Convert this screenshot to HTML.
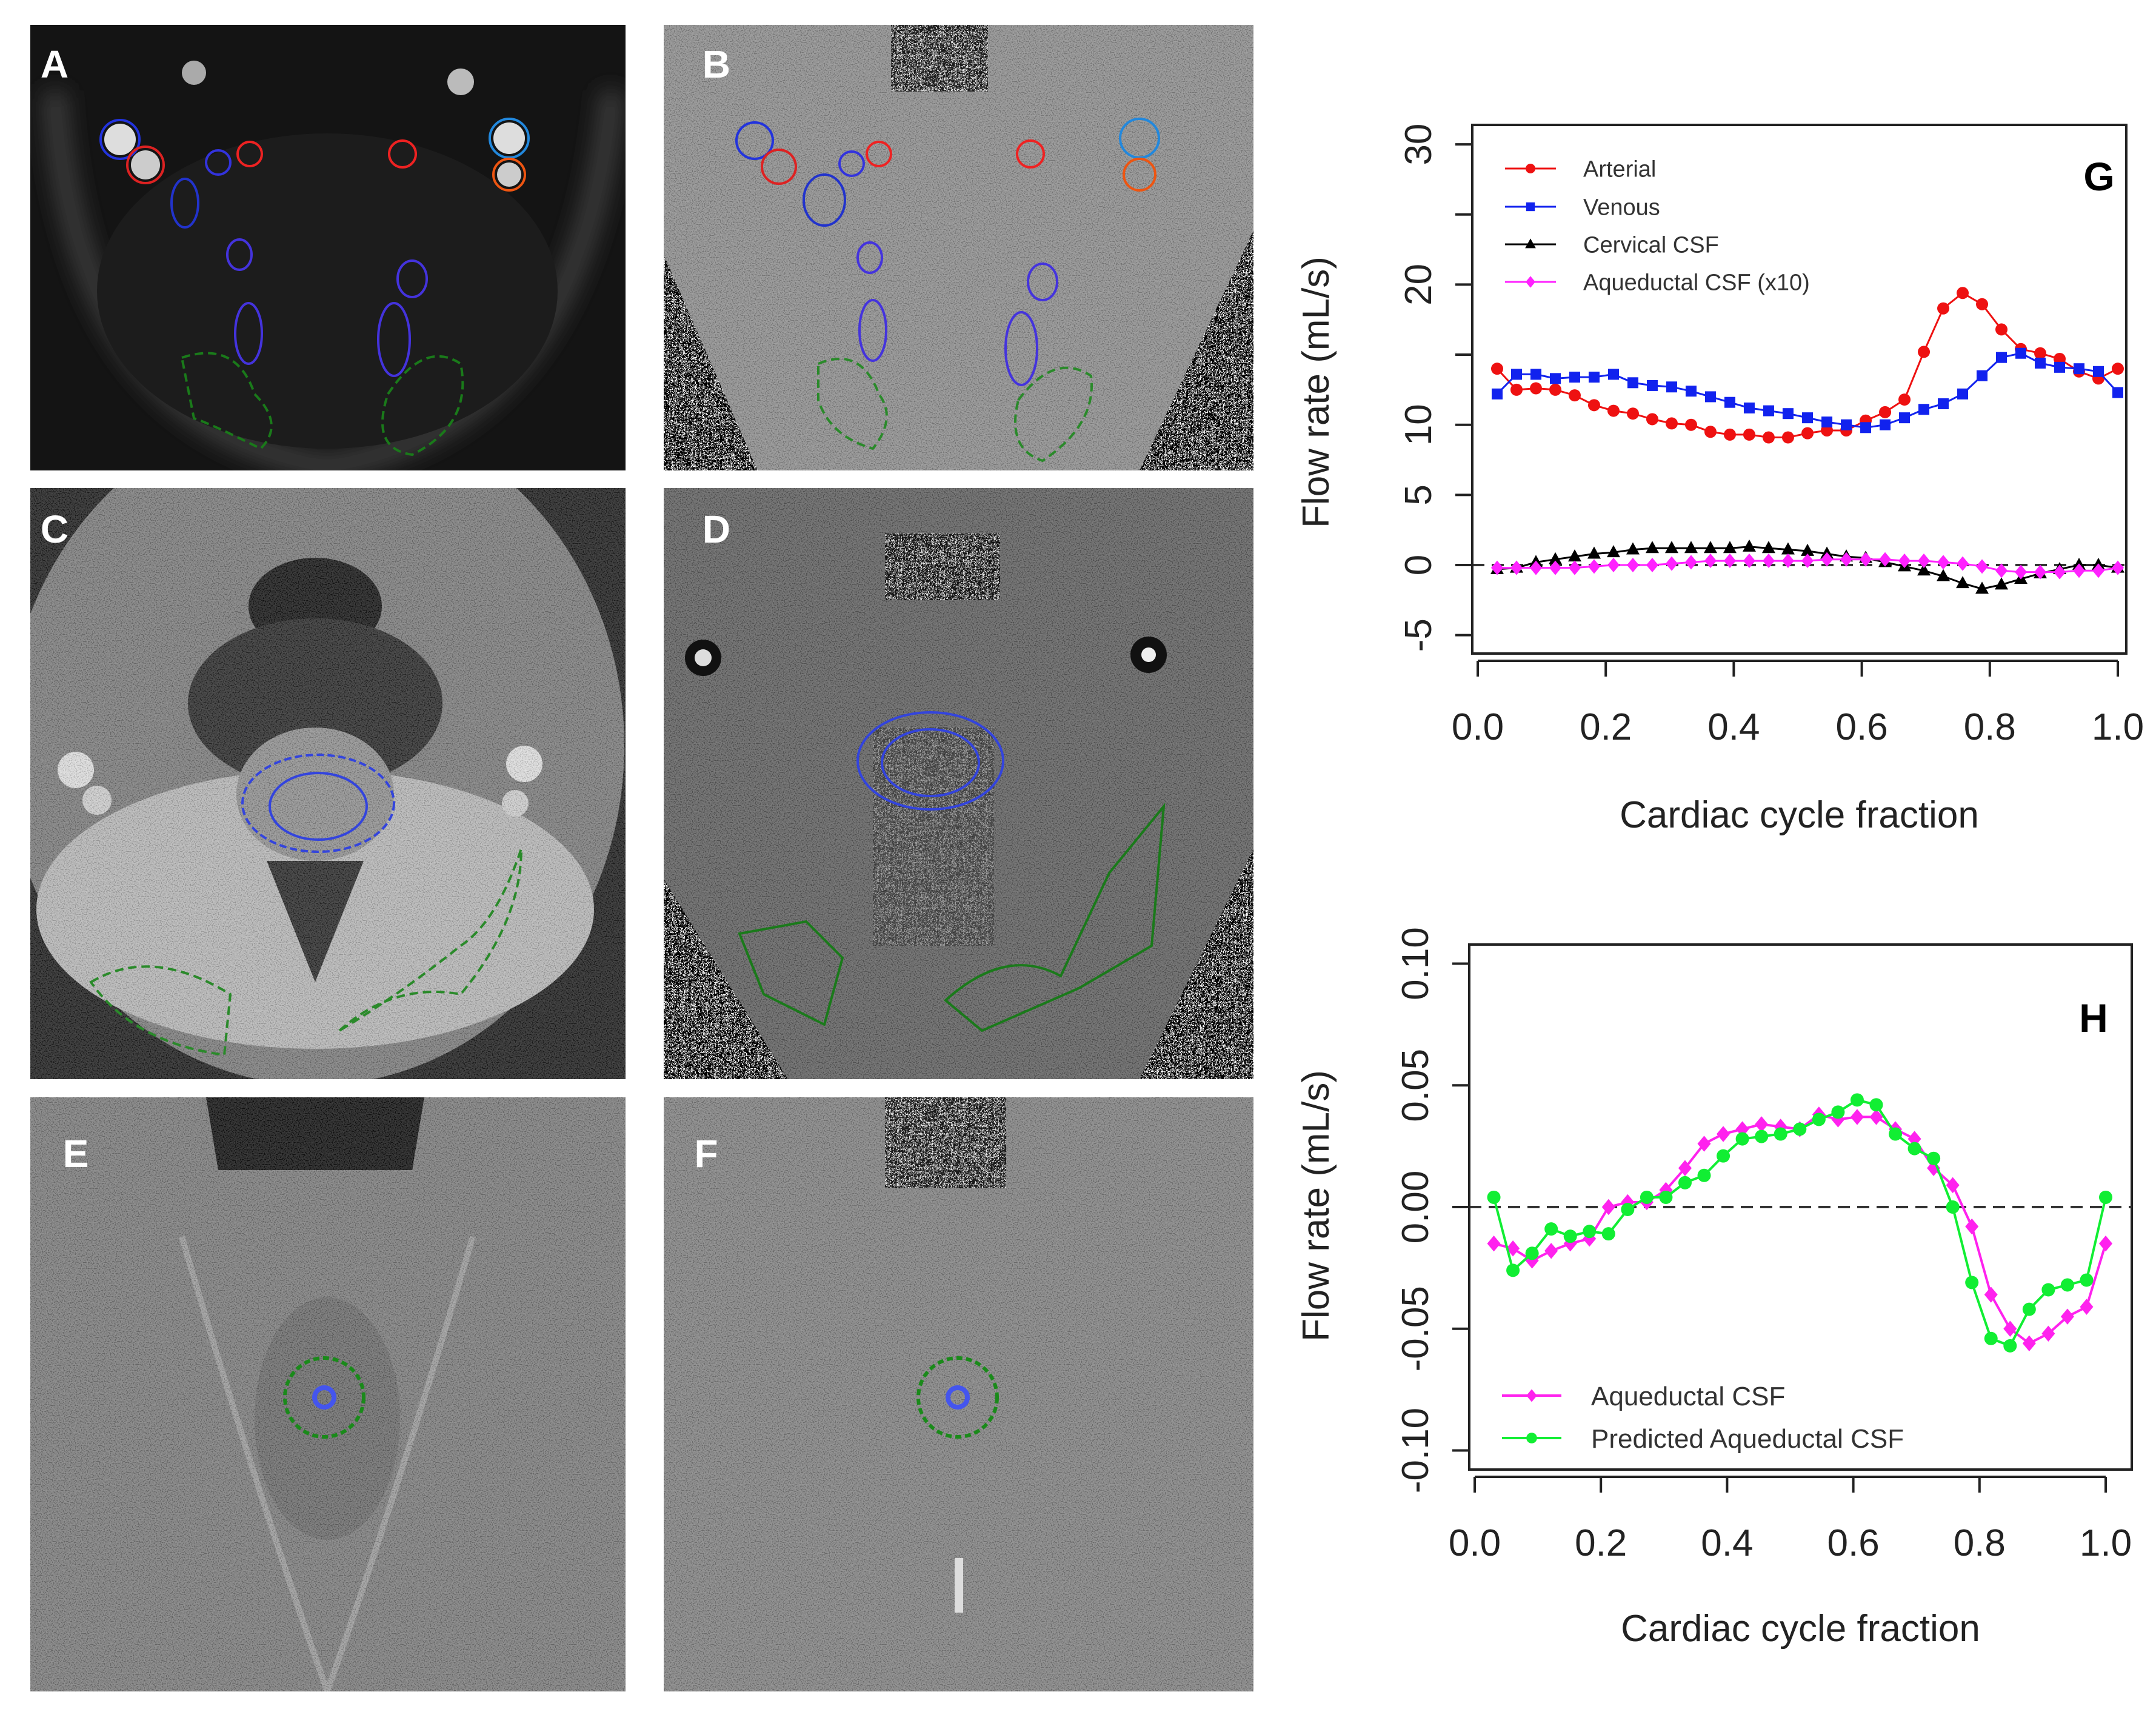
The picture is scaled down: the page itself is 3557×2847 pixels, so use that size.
<!DOCTYPE html>
<html><head><meta charset="utf-8">
<style>
html,body{margin:0;padding:0;background:#fff;}
svg{display:block;}
text{font-family:"Liberation Sans",sans-serif;}
</style></head>
<body>
<svg id="fig" width="3557" height="2847" viewBox="0 0 3557 2847" xmlns="http://www.w3.org/2000/svg">
<defs>
 <filter id="noise" x="0" y="0" width="100%" height="100%">
  <feTurbulence type="turbulence" baseFrequency="0.45" numOctaves="1" seed="3" result="t"/>
  <feColorMatrix in="t" type="matrix" values="9 0 0 0 -1.6  9 0 0 0 -1.6  9 0 0 0 -1.6  0 0 0 0 1"/>
  <feComposite in2="SourceGraphic" operator="in"/>
 </filter>
 <filter id="grain" x="0" y="0" width="100%" height="100%">
  <feTurbulence type="fractalNoise" baseFrequency="0.5" numOctaves="1" seed="7"/>
  <feColorMatrix type="matrix" values="3 0 0 0 -1  3 0 0 0 -1  3 0 0 0 -1  0 0 0 0 0.18"/>
  <feComposite in2="SourceGraphic" operator="in"/>
 </filter>
 <filter id="blur"><feGaussianBlur stdDeviation="18"/></filter>
 <clipPath id="cA"><rect x="50" y="41" width="982" height="735"/></clipPath>
 <clipPath id="cB"><rect x="1095" y="41" width="973" height="735"/></clipPath>
 <clipPath id="cC"><rect x="50" y="805" width="982" height="975"/></clipPath>
 <clipPath id="cD"><rect x="1095" y="805" width="973" height="975"/></clipPath>
 <clipPath id="cE"><rect x="50" y="1810" width="982" height="980"/></clipPath>
 <clipPath id="cF"><rect x="1095" y="1810" width="973" height="980"/></clipPath>
</defs>

<!-- Panel A -->
<g clip-path="url(#cA)">
 <rect x="50" y="41" width="982" height="735" fill="#141414"/>
 <path d="M90 150 Q120 700 540 770 Q960 700 1010 150" fill="none" stroke="#3a3a3a" stroke-width="40" filter="url(#blur)"/>
 <ellipse cx="540" cy="480" rx="380" ry="260" fill="#1c1c1c"/>
 <circle cx="198" cy="230" r="26" fill="#ddd"/><circle cx="240" cy="272" r="24" fill="#ccc"/>
 <circle cx="840" cy="228" r="26" fill="#ddd"/><circle cx="840" cy="288" r="20" fill="#ccc"/>
 <circle cx="320" cy="120" r="20" fill="#aaa"/><circle cx="760" cy="135" r="22" fill="#bbb"/>
 <g fill="none" stroke-width="4">
  <circle cx="198" cy="230" r="32" stroke="#2233dd"/><circle cx="240" cy="272" r="30" stroke="#dd2222"/>
  <circle cx="360" cy="268" r="20" stroke="#3333dd"/><circle cx="412" cy="254" r="20" stroke="#ee2222"/>
  <circle cx="664" cy="254" r="22" stroke="#ee2222"/><circle cx="840" cy="228" r="32" stroke="#2288dd"/>
  <circle cx="840" cy="288" r="26" stroke="#ee5511"/>
  <ellipse cx="305" cy="335" rx="22" ry="40" stroke="#2233cc"/>
  <ellipse cx="395" cy="420" rx="20" ry="25" stroke="#4433dd"/><ellipse cx="680" cy="460" rx="24" ry="30" stroke="#4433dd"/>
  <ellipse cx="410" cy="550" rx="22" ry="50" stroke="#4433dd"/><ellipse cx="650" cy="560" rx="26" ry="60" stroke="#4433dd"/>
  <path d="M300 590 Q390 560 420 650 Q470 700 430 740 Q350 700 320 690 Z" stroke="#1a7a1a" stroke-dasharray="14 8"/>
  <path d="M640 650 Q700 560 760 600 Q780 700 680 750 Q610 740 640 650 Z" stroke="#1a7a1a" stroke-dasharray="14 8"/>
 </g>
 <text x="90" y="128" font-size="64" font-weight="bold" fill="#fff" text-anchor="middle">A</text>
</g>

<!-- Panel B -->
<g clip-path="url(#cB)">
 <rect x="1095" y="41" width="973" height="735" fill="#8c8c8c"/>
 <rect x="1095" y="41" width="973" height="735" fill="#fff" filter="url(#grain)"/>
 <path d="M1095 420 L1250 776 L1095 776 Z" fill="#fff" filter="url(#noise)"/>
 <path d="M2068 380 L1880 776 L2068 776 Z" fill="#fff" filter="url(#noise)"/>
 <rect x="1470" y="41" width="160" height="110" fill="#fff" filter="url(#noise)" opacity="0.8"/>
 <g fill="none" stroke-width="4">
  <circle cx="1245" cy="232" r="30" stroke="#2233dd"/><circle cx="1285" cy="275" r="28" stroke="#dd2222"/>
  <circle cx="1405" cy="270" r="20" stroke="#3333dd"/><circle cx="1450" cy="254" r="20" stroke="#ee2222"/>
  <circle cx="1700" cy="254" r="22" stroke="#ee2222"/><circle cx="1880" cy="228" r="32" stroke="#2288dd"/>
  <circle cx="1880" cy="288" r="26" stroke="#ee5511"/>
  <ellipse cx="1360" cy="330" rx="34" ry="42" stroke="#2233cc"/>
  <ellipse cx="1435" cy="425" rx="20" ry="25" stroke="#4433dd"/><ellipse cx="1720" cy="465" rx="24" ry="30" stroke="#4433dd"/>
  <ellipse cx="1440" cy="545" rx="22" ry="50" stroke="#4433dd"/><ellipse cx="1685" cy="575" rx="26" ry="60" stroke="#4433dd"/>
  <path d="M1350 600 Q1420 570 1450 650 Q1480 690 1440 740 Q1370 720 1350 660 Z" stroke="#2a8a2a" stroke-dasharray="14 8"/>
  <path d="M1680 660 Q1740 580 1800 620 Q1810 700 1720 760 Q1660 740 1680 660 Z" stroke="#2a8a2a" stroke-dasharray="14 8"/>
 </g>
 <text x="1182" y="128" font-size="64" font-weight="bold" fill="#fff" text-anchor="middle">B</text>
</g>

<!-- Panel C -->
<g clip-path="url(#cC)">
 <rect x="50" y="805" width="982" height="975" fill="#1e1e1e"/>
 <ellipse cx="520" cy="1230" rx="510" ry="560" fill="#7a7a7a"/>
 <ellipse cx="520" cy="1500" rx="460" ry="230" fill="#b5b5b5"/>
 <ellipse cx="520" cy="1000" rx="110" ry="80" fill="#151515"/>
 <ellipse cx="520" cy="1160" rx="210" ry="140" fill="#2a2a2a"/>
 <ellipse cx="520" cy="1310" rx="130" ry="110" fill="#8e8e8e"/>
 <path d="M440 1420 L520 1620 L600 1420 Z" fill="#2a2a2a"/>
 <circle cx="125" cy="1270" r="30" fill="#ddd"/><circle cx="160" cy="1320" r="24" fill="#ccc"/>
 <circle cx="865" cy="1260" r="30" fill="#ddd"/><circle cx="850" cy="1325" r="22" fill="#ccc"/>
 <rect x="50" y="805" width="982" height="975" fill="#fff" filter="url(#grain)"/>
 <g fill="none" stroke-width="4">
  <ellipse cx="525" cy="1325" rx="125" ry="80" stroke="#3344dd" stroke-dasharray="12 6"/>
  <ellipse cx="525" cy="1330" rx="80" ry="55" stroke="#3344dd"/>
  <path d="M150 1620 Q250 1560 380 1640 L370 1740 Q220 1720 150 1620 Z" stroke="#2a8a2a" stroke-dasharray="14 8"/>
  <path d="M560 1700 Q650 1620 760 1640 Q860 1520 860 1400 Q820 1520 760 1560 Q660 1640 560 1700 Z" stroke="#2a8a2a" stroke-dasharray="14 8"/>
 </g>
 <text x="90" y="895" font-size="64" font-weight="bold" fill="#fff" text-anchor="middle">C</text>
</g>

<!-- Panel D -->
<g clip-path="url(#cD)">
 <rect x="1095" y="805" width="973" height="975" fill="#5e5e5e"/>
 <rect x="1095" y="805" width="973" height="975" fill="#fff" filter="url(#grain)"/>
 <path d="M1095 1450 L1095 1780 L1300 1780 Z" fill="#fff" filter="url(#noise)"/>
 <path d="M2068 1400 L2068 1780 L1880 1780 Z" fill="#fff" filter="url(#noise)"/>
 <rect x="1460" y="880" width="190" height="110" fill="#fff" filter="url(#noise)" opacity="0.8"/>
 <rect x="1440" y="1200" width="200" height="360" fill="#fff" filter="url(#noise)" opacity="0.35"/>
 <circle cx="1160" cy="1085" r="30" fill="#111"/><circle cx="1160" cy="1085" r="14" fill="#ddd"/>
 <circle cx="1895" cy="1080" r="30" fill="#111"/><circle cx="1895" cy="1080" r="12" fill="#eee"/>
 <g fill="none" stroke-width="4">
  <ellipse cx="1535" cy="1255" rx="120" ry="80" stroke="#3344dd"/>
  <ellipse cx="1535" cy="1258" rx="80" ry="55" stroke="#3344dd"/>
  <path d="M1220 1540 L1330 1520 L1390 1580 L1360 1690 L1260 1640 Z" stroke="#1a7a1a"/>
  <path d="M1560 1650 Q1660 1560 1750 1610 L1830 1440 L1920 1330 L1900 1560 L1780 1630 L1620 1700 Z" stroke="#1a7a1a"/>
 </g>
 <text x="1182" y="895" font-size="64" font-weight="bold" fill="#fff" text-anchor="middle">D</text>
</g>

<!-- Panel E -->
<g clip-path="url(#cE)">
 <rect x="50" y="1810" width="982" height="980" fill="#7a7a7a"/>
 <path d="M340 1810 L700 1810 L680 1930 L360 1930 Z" fill="#111"/>
 <path d="M300 2040 Q420 2450 540 2790 M780 2040 Q660 2450 540 2790" stroke="#9a9a9a" stroke-width="10" fill="none"/>
 <ellipse cx="540" cy="2340" rx="120" ry="200" fill="#6a6a6a"/>
 <rect x="50" y="1810" width="982" height="980" fill="#fff" filter="url(#grain)"/>
 <circle cx="535" cy="2305" r="65" fill="none" stroke="#1a8a1a" stroke-width="6" stroke-dasharray="10 6"/>
 <circle cx="535" cy="2305" r="16" fill="none" stroke="#4455ee" stroke-width="8"/>
 <text x="125" y="1925" font-size="64" font-weight="bold" fill="#fff" text-anchor="middle">E</text>
</g>

<!-- Panel F -->
<g clip-path="url(#cF)">
 <rect x="1095" y="1810" width="973" height="980" fill="#808080"/>
 <rect x="1095" y="1810" width="973" height="980" fill="#fff" filter="url(#grain)"/>
 <rect x="1460" y="1810" width="200" height="150" fill="#fff" filter="url(#noise)" opacity="0.8"/>
 <rect x="1575" y="2570" width="14" height="90" fill="#ddd"/>
 <circle cx="1580" cy="2305" r="65" fill="none" stroke="#1a8a1a" stroke-width="6" stroke-dasharray="10 6"/>
 <circle cx="1580" cy="2305" r="16" fill="none" stroke="#4455ee" stroke-width="8"/>
 <text x="1165" y="1925" font-size="64" font-weight="bold" fill="#fff" text-anchor="middle">F</text>
</g>

<g id="chartG"></g>
<g id="chartH"></g>
</svg>

<script>
// ---- Chart G data ----
const xFractions = [0.0303,0.0606,0.0909,0.1212,0.1515,0.1818,0.2121,0.2424,0.2727,0.3030,0.3333,0.3636,0.3939,0.4242,0.4545,0.4848,0.5152,0.5455,0.5758,0.6061,0.6364,0.6667,0.6970,0.7273,0.7576,0.7879,0.8182,0.8485,0.8788,0.9091,0.9394,0.9697,1.0];
const arterial = [14.0,12.5,12.6,12.5,12.1,11.4,11.0,10.8,10.4,10.1,10.0,9.5,9.3,9.3,9.1,9.1,9.4,9.6,9.6,10.3,10.9,11.8,15.2,18.3,19.4,18.6,16.8,15.4,15.1,14.7,13.8,13.3,14.0];
const venous = [12.2,13.6,13.6,13.3,13.4,13.4,13.6,13.0,12.8,12.7,12.4,12.0,11.6,11.2,11.0,10.8,10.5,10.2,10.0,9.8,10.0,10.5,11.1,11.5,12.2,13.5,14.8,15.1,14.4,14.1,14.0,13.8,12.3];
const cervicalCSF = [-0.3,-0.2,0.2,0.4,0.6,0.8,0.9,1.1,1.2,1.2,1.2,1.2,1.2,1.3,1.2,1.1,1.0,0.8,0.6,0.5,0.2,-0.1,-0.4,-0.8,-1.3,-1.7,-1.4,-1.0,-0.6,-0.3,0.0,0.0,-0.2];
const aqueductalX10 = [-0.2,-0.2,-0.2,-0.2,-0.2,-0.1,0.0,0.0,0.0,0.1,0.2,0.3,0.3,0.3,0.3,0.3,0.3,0.4,0.4,0.4,0.4,0.3,0.3,0.2,0.1,-0.1,-0.4,-0.5,-0.5,-0.5,-0.4,-0.4,-0.2];
const gYTicks = [-5,0,5,10,15,20,25,30];
const gYLabels = ['-5','0','5','10','','20','','30'];
const xTicks = [0,0.2,0.4,0.6,0.8,1.0];
const xTickLabels = ['0.0','0.2','0.4','0.6','0.8','1.0'];
// ---- Chart H data ----
const aqueductalCSF = [-0.015,-0.017,-0.022,-0.018,-0.015,-0.013,0.000,0.002,0.002,0.007,0.016,0.026,0.030,0.032,0.034,0.033,0.032,0.038,0.036,0.037,0.037,0.032,0.028,0.016,0.009,-0.008,-0.036,-0.050,-0.056,-0.052,-0.045,-0.041,-0.015];
const predictedCSF = [0.004,-0.026,-0.019,-0.009,-0.012,-0.010,-0.011,-0.001,0.004,0.004,0.010,0.013,0.021,0.028,0.029,0.030,0.032,0.036,0.039,0.044,0.042,0.030,0.024,0.020,0.000,-0.031,-0.054,-0.057,-0.042,-0.034,-0.032,-0.030,0.004];
const hYTicks = [-0.10,-0.05,0.00,0.05,0.10];
const hYLabels = ['-0.10','-0.05','0.00','0.05','0.10'];

const NS='http://www.w3.org/2000/svg';
function mk(parent, tag, attrs, txt){
  const e=document.createElementNS(NS,tag);
  for(const k in attrs) e.setAttribute(k,attrs[k]);
  if(txt!==undefined) e.textContent=txt;
  parent.appendChild(e); return e;
}
function marker(g, shape, cx, cy, r, color){
  let m;
  if(shape==='circle') m=mk(g,'circle',{cx:cx,cy:cy,r:r,fill:color});
  else if(shape==='square') m=mk(g,'rect',{x:cx-r,y:cy-r,width:2*r,height:2*r,fill:color});
  else if(shape==='triangle') m=mk(g,'polygon',{points:`${cx},${cy-r*1.2} ${cx-r*1.1},${cy+r*0.8} ${cx+r*1.1},${cy+r*0.8}`,fill:color});
  else m=mk(g,'polygon',{points:`${cx},${cy-r*1.2} ${cx+r},${cy} ${cx},${cy+r*1.2} ${cx-r},${cy}`,fill:color});
  return m;
}
function drawChart(cfg){
  const g=document.getElementById(cfg.id);
  const X=v=>cfg.x0+(v)*(cfg.x1-cfg.x0);
  const Y=v=>cfg.yZero-(v)*cfg.yScale;
  const box=mk(g,'rect',{x:cfg.bx0,y:cfg.by0,width:cfg.bx1-cfg.bx0,height:cfg.by1-cfg.by0,fill:'none',stroke:'#222','stroke-width':4});
  
  
  const zl=mk(g,'line',{x1:cfg.bx0,x2:cfg.bx1,y1:Y(0),y2:Y(0),stroke:'#333','stroke-width':4,'stroke-dasharray':'20 12'});
  
  
  const xa=mk(g,'g',{});
  
  
  mk(xa,'line',{x1:X(xTicks[0]),x2:X(xTicks[xTicks.length-1]),y1:cfg.axY,y2:cfg.axY,stroke:'#222','stroke-width':4});
  xTicks.forEach((t,i)=>{
    mk(xa,'line',{x1:X(t),x2:X(t),y1:cfg.axY,y2:cfg.axY+26,stroke:'#222','stroke-width':4});
    const tl=mk(xa,'text',{x:X(t),y:cfg.axY+130,'font-size':62,'text-anchor':'middle',fill:'#222'},xTickLabels[i]);
    
    
  });
  const xt=mk(g,'text',{x:(cfg.bx0+cfg.bx1)/2,y:cfg.xTitleY,'font-size':62,'text-anchor':'middle',fill:'#222'},'Cardiac cycle fraction');
  
  
  const ya=mk(g,'g',{});
  
  
  const ax=cfg.bx0;
  mk(ya,'line',{x1:ax,x2:ax,y1:Y(cfg.yTicks[0]),y2:Y(cfg.yTicks[cfg.yTicks.length-1]),stroke:'#222','stroke-width':4});
  cfg.yTicks.forEach((t,i)=>{
    mk(ya,'line',{x1:ax,x2:ax-28,y1:Y(t),y2:Y(t),stroke:'#222','stroke-width':4});
    if(cfg.yLabels[i]){
      const yl=mk(ya,'text',{x:0,y:0,'font-size':62,'text-anchor':'middle',fill:'#222',transform:`translate(${ax-68},${Y(t)}) rotate(-90)`},cfg.yLabels[i]);
      
      
    }
  });
  const yt=mk(g,'text',{x:0,y:0,'font-size':62,'text-anchor':'middle',fill:'#222',transform:`translate(2192,${cfg.yTitleY}) rotate(-90)`},'Flow rate (mL/s)');
  
  
  cfg.series.forEach(s=>{
    const sg=mk(g,'g',{});
    
    
    const pts=s.values.map((v,i)=>X(xFractions[i]).toFixed(1)+','+Y(v).toFixed(1)).join(' ');
    mk(sg,'polyline',{points:pts,fill:'none',stroke:s.color,'stroke-width':s.lw});
    s.values.forEach((v,i)=>{
      const m=marker(sg,s.shape,X(xFractions[i]),Y(v),s.r,s.color);
      
      
    });
  });
  const lg=mk(g,'g',{});
  
  
  cfg.series.forEach((s,i)=>{
    const ly=cfg.legY[i];
    const le=mk(lg,'g',{});
    
    
    mk(le,'line',{x1:cfg.legX0,x2:cfg.legX1,y1:ly,y2:ly,stroke:s.color,'stroke-width':s.lw});
    marker(le,s.shape,(cfg.legX0+cfg.legX1)/2,ly,s.r*0.8,s.color);
    mk(le,'text',{x:cfg.legTX,y:ly+cfg.legFS*0.36,'font-size':cfg.legFS,fill:'#333'},s.label);
  });
  const pl=mk(g,'text',{x:cfg.letterX,y:cfg.letterY,'font-size':66,'font-weight':'bold','text-anchor':'middle',fill:'#000'},cfg.letter);
  
  
}
drawChart({id:'chartG',x0:2438,x1:3494,yZero:932,yScale:23.13,bx0:2429,bx1:3508,by0:206,by1:1078,axY:1090,
  xTitleY:1365,yTitleY:647,yTicks:gYTicks,yLabels:gYLabels,legX0:2483,legX1:2567,legTX:2612,legY:[278,341,403,465],legFS:38,
  letter:'G',letterX:3463,letterY:314,
  series:[
   {name:'arterial-series',label:'Arterial',values:arterial,color:'#ee1111',shape:'circle',r:10,lw:3},
   {name:'venous-series',label:'Venous',values:venous,color:'#1122ee',shape:'square',r:9,lw:3},
   {name:'cervical-csf-series',label:'Cervical CSF',values:cervicalCSF,color:'#000',shape:'triangle',r:10,lw:3},
   {name:'aqueductal-x10-series',label:'Aqueductal CSF (x10)',values:aqueductalX10,color:'#ff22ff',shape:'diamond',r:10,lw:3}
  ]});
drawChart({id:'chartH',x0:2433,x1:3474,yZero:1991,yScale:4015,bx0:2424,bx1:3517,by0:1558,by1:2424,axY:2436,
  xTitleY:2707,yTitleY:1989,yTicks:hYTicks,yLabels:hYLabels,legX0:2478,legX1:2576,legTX:2625,legY:[2302,2372],legFS:44,
  letter:'H',letterX:3454,letterY:1702,
  series:[
   {name:'aqueductal-csf-series',label:'Aqueductal CSF',values:aqueductalCSF,color:'#ff22ee',shape:'diamond',r:11,lw:4},
   {name:'predicted-aqueductal-csf-series',label:'Predicted Aqueductal CSF',values:predictedCSF,color:'#11ee33',shape:'circle',r:11,lw:4}
  ]});
</script>
</body></html>
